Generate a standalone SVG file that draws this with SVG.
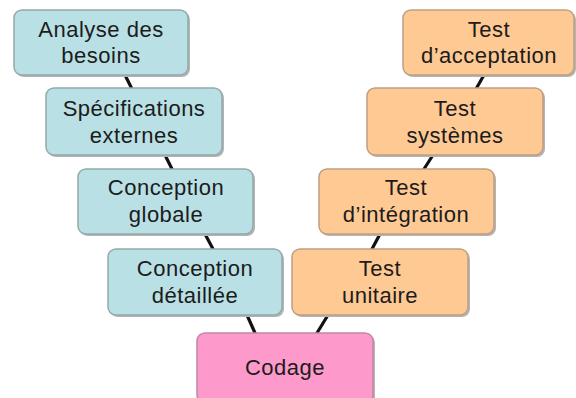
<svg xmlns="http://www.w3.org/2000/svg" width="576" height="398" viewBox="0 0 576 398">
<style>
.box{stroke-width:1.5}
.shadow{fill:#b4b4b4}
.t{fill:#b9e0e4;stroke:#93a9ab}
.o{fill:#fec993;stroke:#bf9f83}
.p{fill:#fe9acb;stroke:#c088a4}
text{font-family:"Liberation Sans",Arial,sans-serif;font-size:22px;letter-spacing:0.5px;fill:#1c1c1c;text-anchor:middle}
.c line{stroke:#111;stroke-width:3.2;stroke-linecap:round}
</style>
<rect width="576" height="398" fill="#fff"/>
<g class="c" id="connectors">
<line x1="125" y1="75" x2="132" y2="89"/>
<line x1="165" y1="155" x2="172" y2="169"/>
<line x1="205" y1="234" x2="213" y2="249"/>
<line x1="247" y1="315" x2="255" y2="333"/>
<line x1="328" y1="315" x2="317" y2="333"/>
<line x1="380" y1="234" x2="372" y2="249"/>
<line x1="433" y1="155" x2="424" y2="169"/>
<line x1="484" y1="75" x2="476" y2="89"/>
</g>
<g id="n1"><rect class="shadow" x="16" y="12" width="174" height="65" rx="8"/><rect class="box t" x="14" y="10" width="174" height="65" rx="8"/><text x="101" y="37">Analyse des</text><text x="101" y="63">besoins</text></g>
<g id="n2"><rect class="shadow" x="48" y="90" width="176" height="67" rx="8"/><rect class="box t" x="46" y="88" width="176" height="67" rx="8"/><text x="134" y="116">Spécifications</text><text x="134" y="143">externes</text></g>
<g id="n3"><rect class="shadow" x="80" y="171" width="175" height="65" rx="8"/><rect class="box t" x="78" y="169" width="175" height="65" rx="8"/><text x="166" y="195">Conception</text><text x="166" y="222">globale</text></g>
<g id="n4"><rect class="shadow" x="110" y="251" width="174" height="66" rx="8"/><rect class="box t" x="108" y="249" width="174" height="66" rx="8"/><text x="195" y="276">Conception</text><text x="195" y="303">détaillée</text></g>
<g id="n5"><rect class="shadow" x="199" y="335" width="176" height="70" rx="8"/><rect class="box p" x="197" y="333" width="176" height="70" rx="8"/><text x="285" y="375">Codage</text></g>
<g id="n6"><rect class="shadow" x="294" y="251" width="176" height="66" rx="8"/><rect class="box o" x="292" y="249" width="176" height="66" rx="8"/><text x="380" y="276">Test</text><text x="380" y="303">unitaire</text></g>
<g id="n7"><rect class="shadow" x="321" y="171" width="175" height="65" rx="8"/><rect class="box o" x="319" y="169" width="175" height="65" rx="8"/><text x="406" y="195">Test</text><text x="406" y="222">d’intégration</text></g>
<g id="n8"><rect class="shadow" x="369" y="90" width="176" height="67" rx="8"/><rect class="box o" x="367" y="88" width="176" height="67" rx="8"/><text x="455" y="116">Test</text><text x="455" y="143">systèmes</text></g>
<g id="n9"><rect class="shadow" x="405" y="12" width="171" height="65" rx="8"/><rect class="box o" x="403" y="10" width="171" height="65" rx="8"/><text x="489" y="37">Test</text><text x="489" y="63">d’acceptation</text></g>
</svg>
